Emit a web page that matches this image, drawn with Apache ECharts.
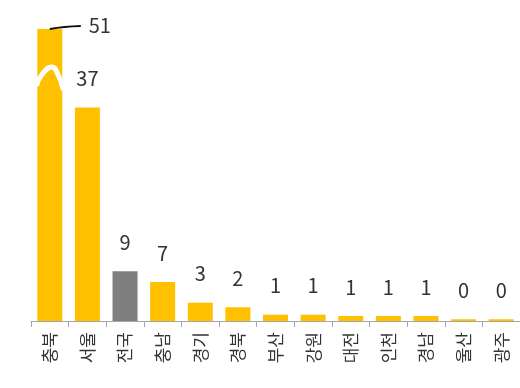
<!DOCTYPE html>
<html>
<head>
<meta charset="utf-8">
<script src="https://cdn.jsdelivr.net/npm/echarts@6/dist/echarts.min.js"></script>
<style>html,body{margin:0;padding:0;background:#fff;}#c{width:520px;height:388px;}</style>
</head>
<body>
<div id="c"></div>
<script>
var categories = ['충북','서울','전국','충남','경기','경북','부산','강원','대전','인천','경남','울산','광주'];
var values = [51, 37.3, 8.7, 6.8, 3.2, 2.4, 1.1, 1.1, 0.87, 0.87, 0.87, 0.3, 0.3];
var labels = ['51','37','9','7','3','2','1','1','1','1','1','0','0'];
var highlightIndex = 2;

var chart = echarts.init(document.getElementById('c'), null, {renderer:'canvas'});
var FONT = '"Noto Sans CJK KR", "Noto Sans", sans-serif';

chart.setOption({
  animation: false,
  grid: {left: 31, right: -3, top: 29, bottom: 67},
  xAxis: {
    type: 'category',
    data: categories,
    axisLine: {lineStyle: {color: '#a6a6a6', width: 1}},
    axisTick: {show: true, length: 6, lineStyle: {color: '#a6a6a6'}},
    axisLabel: {rotate: 90, margin: 11, fontSize: 17, color: '#333', fontFamily: FONT}
  },
  yAxis: {type: 'value', min: 0, max: 51, show: false, splitLine: {show: false}},
  series: [{
    type: 'bar',
    barWidth: 25,
    data: values.map(function (v, i) {
      return {value: v, itemStyle: {color: i === highlightIndex ? '#7f7f7f' : '#ffc000'}};
    }),
    label: {
      show: true, position: 'top', distance: 19,
      fontSize: 20, color: '#333', fontFamily: FONT,
      formatter: function (p) { return labels[p.dataIndex]; }
    },
    labelLayout: function (p) {
      if (p.dataIndex === 0) return {dx: 50, dy: 25};
      return {};
    }
  }, {
    type: 'custom',
    data: [[0, values[0]]],
    z: 5,
    silent: true,
    renderItem: function (params, api) {
      var top = api.coord([api.value(0), api.value(1)]);
      var cx = top[0], ty = top[1];
      var L = cx - 12.5, R = cx + 12.5;
      return {
        type: 'group',
        children: [{
          type: 'polyline',
          shape: {points: [[L - 1, ty + 57], [L + 5, ty + 45], [cx + 2, ty + 38], [cx + 8, ty + 45], [R + 1, ty + 61]], smooth: 0.5},
          style: {stroke: '#fff', lineWidth: 5, fill: null}
        }, {
          type: 'bezierCurve',
          shape: {x1: cx, y1: ty, cpx1: cx + 14, cpy1: ty - 2.5, x2: cx + 31, y2: ty - 3},
          style: {stroke: '#111', lineWidth: 1.8, fill: null}
        }]
      };
    }
  }]
});
</script>
</body>
</html>
